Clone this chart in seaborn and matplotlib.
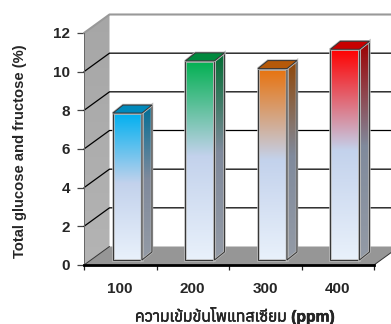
import numpy as np
import matplotlib
matplotlib.use('Agg')
from matplotlib import pyplot as plt
from matplotlib import font_manager as fm
from matplotlib.colors import LinearSegmentedColormap, to_rgb
from matplotlib.patches import Polygon
from matplotlib import patheffects as pe
import seaborn as sns

doses = ['100', '200', '300', '400']
sugar = [7.6, 10.3, 9.9, 10.9]
top_colors = ['#00b0f0', '#00b050', '#e8720c', '#ff0000']
y_ticks = [0, 2, 4, 6, 8, 10, 12]
x_title = 'ความเข้มข้นโพแทสเซียม (ppm)'
y_title = 'Total glucose and fructose (%)'

# which installed fonts can draw thai?
thai = []
for f in fm.fontManager.ttflist:
    try:
        if 0x0E04 in fm.get_font(f.fname).get_charmap():
            thai.append(f.name)
    except Exception:
        pass

sns.set_style("white")
plt.rcParams['font.family'] = ['Liberation Sans'] + sorted(set(thai))[:1] + ['DejaVu Sans']

W, H = 391, 324
fig = plt.figure(figsize=(W / 100, H / 100), dpi=100)
ax = fig.add_axes([84 / W, 1 - 265 / H, 290 / W, 232 / H])

# pixels per data unit, the 3d look is all offsets from here
ux = 290 / 4
uy = 232 / 12
wall_dx, wall_dy = 25.5 / ux, 18.5 / uy
bar_dx, bar_dy = 7.2 / ux, 5 / uy
side_dx, side_dy = 10 / ux, 8 / uy
x0, x1 = -0.5, 3.5

sns.barplot(x=doses, y=sugar, hue=doses, palette=top_colors, legend=False,
            width=0.4, bottom=bar_dy, ax=ax, zorder=5)
bars = list(ax.patches)


def gradient(colors, extent, clip, z):
    cmap = LinearSegmentedColormap.from_list('g', colors)
    im = ax.imshow(np.linspace(0, 1, 256)[:, None], cmap=cmap, aspect='auto',
                   extent=extent, origin='upper', zorder=z)
    im.set_clip_box(fig.bbox)
    im.set_clip_path(clip)


def darker(c, k):
    return tuple(v * k for v in to_rgb(c))


# walls and floor
wall = Polygon([(x0, 0), (x0 + wall_dx, wall_dy), (x0 + wall_dx, 12 + wall_dy), (x0, 12)],
               facecolor='none', edgecolor='none', zorder=1, clip_on=False)
ax.add_patch(wall)
gradient(['#a6a6a6', '#b4b4b4'], (x0, x0 + wall_dx, 0, 12 + wall_dy), wall, 1)
floor = Polygon([(x0, 0), (x0 + wall_dx, wall_dy), (x1 + wall_dx, wall_dy), (x1, 0)],
                facecolor='#969696', edgecolor='none', zorder=1, clip_on=False)
ax.add_patch(floor)
for t in y_ticks[1:-1]:
    ax.plot([x0, x0 + wall_dx, x1 + wall_dx], [t, t + wall_dy, t + wall_dy], color='black',
            lw=0.9, zorder=2, clip_on=False)
ax.plot([x0, x0 + wall_dx], [0, wall_dy], color='#333333', lw=0.7, zorder=2, clip_on=False)
ax.plot([x0, x0 + wall_dx, x1 + wall_dx], [12, 12 + wall_dy, 12 + wall_dy], color='#999999',
        lw=1.5, zorder=2, clip_on=False)
ax.plot([x1, x1 + wall_dx], [0, wall_dy], color='#333333', lw=0.7, zorder=2, clip_on=False)

# bars: front from seaborn, then gradient, side and top built on the same patches
halo = [pe.withStroke(linewidth=1.8, foreground='#b8b8b8')]
for p, c in zip(bars, top_colors):
    p.set_x(p.get_x() + bar_dx)
    left, right = p.get_x(), p.get_x() + p.get_width()
    low, high = p.get_y(), p.get_y() + p.get_height()

    side = Polygon([(right, low), (right + side_dx, low + side_dy),
                    (right + side_dx, high + side_dy), (right, high)],
                   facecolor='none', edgecolor='#333333', lw=0.7, zorder=5, path_effects=halo)
    top = Polygon([(left, high), (right, high), (right + side_dx, high + side_dy),
                   (left + side_dx, high + side_dy)],
                  facecolor=darker(c, 0.78), edgecolor='#333333', lw=0.7, zorder=5, path_effects=halo)
    ax.add_patch(side)
    ax.add_patch(top)
    gradient([(0, c), (0.48, '#c3d2ec'), (1, '#e9f1fb')], (left, right, low, high), p, 4)
    gradient([(0, darker(c, 0.62)), (0.48, '#808a9c'), (1, '#949ba6')],
             (right, right + side_dx, low, high + side_dy), side, 4)
    p.set_facecolor('none')
    p.set_edgecolor('#333333')
    p.set_linewidth(0.7)
    p.set_path_effects(halo)

ax.set_xlim(x0, x1)
ax.set_ylim(0, 12)
ax.set_yticks(y_ticks)
ax.set_xticks([x0, 0.5, 1.5, 2.5, x1], labels=[])
ax.set_xticks([0, 1, 2, 3], labels=doses, minor=True)
ax.tick_params(axis='y', length=5, width=0.9, color='#444444', labelsize=11, pad=5, left=True)
ax.tick_params(axis='x', which='major', length=3.5, width=0.9, color='#222222', bottom=True)
ax.tick_params(axis='x', which='minor', length=0, labelsize=11, pad=12.5)
for t in ax.get_xticklabels(minor=True) + ax.get_yticklabels():
    t.set_fontweight('bold')

for s in ['top', 'right']:
    ax.spines[s].set_visible(False)
ax.spines['left'].set_color('#666666')
ax.spines['left'].set_linewidth(0.7)
ax.spines['bottom'].set_color('black')
ax.spines['bottom'].set_linewidth(2)
ax.spines['bottom'].set_zorder(6)
ax.patch.set_visible(False)

fig.text(20.5 / W, 1 - 151 / H, y_title, rotation=90, ha='center', va='center',
         fontsize=10.6, fontweight='bold')
fig.text(235 / W, 1 - 316 / H, x_title, ha='center', va='center',
         fontsize=11.3, fontweight='bold',
         path_effects=[pe.withStroke(linewidth=0.35, foreground='black')])

fig.savefig('out.png', dpi=100)
